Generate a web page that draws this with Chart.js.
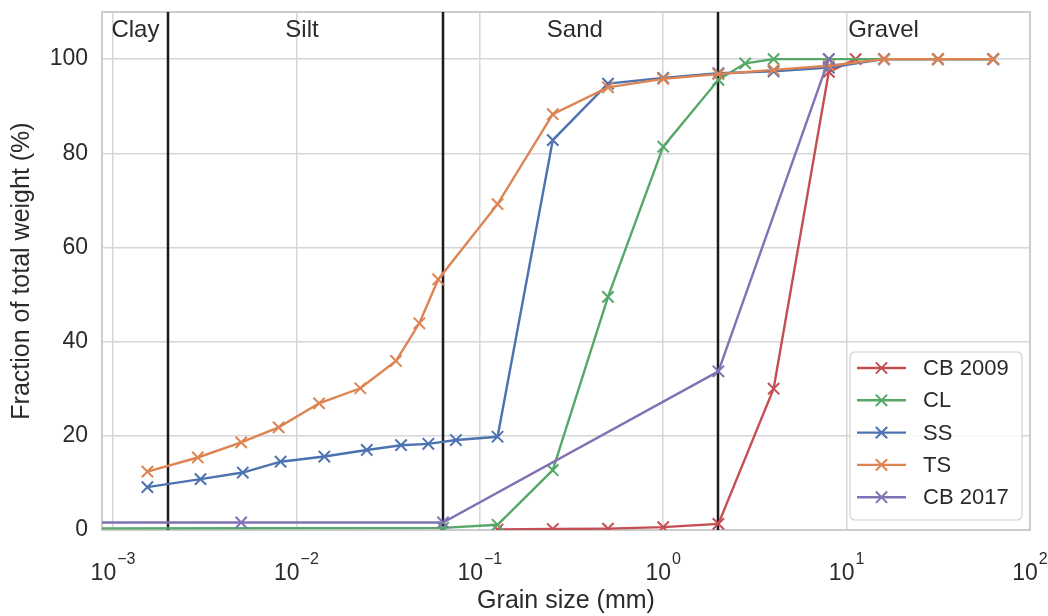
<!DOCTYPE html>
<html>
<head>
<meta charset="utf-8">
<script src="https://cdn.jsdelivr.net/npm/chart.js@4.4.1/dist/chart.umd.min.js"></script>
<style>
  html, body { margin: 0; padding: 0; background: #fff; }
  canvas { display: block; }
</style>
</head>
<body>
<canvas id="canvas-1" width="1048" height="616"></canvas>
<script>
// grain size distribution
var seriesNames = ['CB 2009', 'CL', 'SS', 'TS', 'CB 2017'];
var seriesColors = ['#c44e52', '#55a868', '#4c72b0', '#dd8452', '#8172b3'];

var cb2009Size = [0.125, 0.25, 0.5, 1, 2, 4, 8, 11.2, 16, 31.5, 63];
var cb2009Pct = [0.1, 0.2, 0.3, 0.6, 1.3, 30, 97.3, 100, 100, 100, 100];

var clSize = [0, 0.063, 0.125, 0.25, 0.5, 1, 2, 2.8, 4, 8, 16, 31.5, 63];
var clPct = [0.35, 0.45, 1.1, 12.7, 49.5, 81.4, 95.6, 99.1, 100, 100, 100, 100, 100];

var ssSize = [0.00154, 0.003, 0.0051, 0.0082, 0.0142, 0.0242, 0.0372, 0.0524, 0.0741, 0.125, 0.25, 0.5, 1, 2, 4, 8, 16, 31.5, 63];
var ssPct = [9.1, 10.8, 12.2, 14.5, 15.6, 17.0, 18.0, 18.3, 19.1, 19.8, 82.8, 94.8, 96.0, 97.0, 97.4, 98.2, 100, 100, 100];

var tsSize = [0.00154, 0.0029, 0.005, 0.008, 0.0133, 0.0223, 0.0349, 0.0468, 0.0593, 0.125, 0.25, 0.5, 1, 2, 4, 8, 16, 31.5, 63];
var tsPct = [12.4, 15.4, 18.6, 21.8, 26.9, 30.1, 35.9, 43.9, 53.2, 69.2, 88.3, 94.0, 95.8, 96.8, 97.7, 98.6, 100, 100, 100];

var cb2017Size = [0, 0.005, 0.063, 2, 8];
var cb2017Pct = [1.6, 1.6, 1.6, 33.7, 100];

var boundarySizes = [0.002, 0.063, 2];
var classNames = ['Clay', 'Silt', 'Sand', 'Gravel'];
var xTickPowers = [-3, -2, -1, 0, 1, 2];
var yTicks = [0, 20, 40, 60, 80, 100];

var textColor = '#2b2b2b';
var gridColor = '#d6d6d6';
var fontFamily = '"Liberation Sans", Arial, sans-serif';
var classLabelX = [0.00098, 0.0087, 0.232, 10.2];
var classLabelY = 104.6;

Chart.defaults.font.family = fontFamily;
Chart.defaults.color = textColor;

function toPoints(sizes, pcts) {
  return sizes.map(function (s, i) { return { x: s, y: pcts[i] }; });
}

var allSizes = [cb2009Size, clSize, ssSize, tsSize, cb2017Size];
var allPcts = [cb2009Pct, clPct, ssPct, tsPct, cb2017Pct];

var datasets = seriesNames.map(function (name, i) {
  return {
    label: name,
    data: toPoints(allSizes[i], allPcts[i]),
    borderColor: seriesColors[i],
    backgroundColor: seriesColors[i],
    pointBorderColor: seriesColors[i],
    borderWidth: 2.4,
    pointStyle: 'crossRot',
    pointRadius: function (c) { return c.raw && c.raw.x > 0 ? 8 : 0; },
    pointBorderWidth: 2,
    tension: 0,
    fill: false,
    order: seriesNames.length - i
  };
});

function drawCross(ctx, x, y, r) {
  var d = r * Math.SQRT1_2;
  ctx.beginPath();
  ctx.moveTo(x - d, y - d); ctx.lineTo(x + d, y + d);
  ctx.moveTo(x - d, y + d); ctx.lineTo(x + d, y - d);
  ctx.stroke();
}

var grainPlugin = {
  id: 'grainPlot',
  beforeDatasetsDraw: function (chart) {
    var ctx = chart.ctx, area = chart.chartArea;
    var xs = chart.scales.x, ys = chart.scales.y;
    ctx.save();
    // axes frame
    ctx.strokeStyle = '#cccccc';
    ctx.lineWidth = 2;
    ctx.strokeRect(area.left, area.top, area.right - area.left, area.bottom - area.top);
    // class boundaries
    ctx.strokeStyle = '#1a1a1a';
    ctx.lineWidth = 2.5;
    boundarySizes.forEach(function (b) {
      var px = Math.round(xs.getPixelForValue(b));
      ctx.beginPath();
      ctx.moveTo(px, area.top);
      ctx.lineTo(px, area.bottom);
      ctx.stroke();
    });
    ctx.fillStyle = textColor;
    ctx.font = '24px ' + fontFamily;
    ctx.textAlign = 'left';
    ctx.textBaseline = 'alphabetic';
    classNames.forEach(function (n, i) {
      ctx.fillText(n, xs.getPixelForValue(classLabelX[i]), ys.getPixelForValue(classLabelY));
    });
    ctx.restore();
  },
  afterDraw: function (chart) {
    var ctx = chart.ctx, area = chart.chartArea;
    var xs = chart.scales.x;
    ctx.save();
    // x tick labels as 10 with superscript exponent
    ctx.fillStyle = textColor;
    ctx.textAlign = 'left';
    ctx.textBaseline = 'alphabetic';
    xTickPowers.forEach(function (p) {
      var px = xs.getPixelForValue(Math.pow(10, p));
      var exp = p < 0 ? '\u2212' + (-p) : String(p);
      ctx.font = '23px ' + fontFamily;
      var wb = ctx.measureText('10').width;
      ctx.font = '16px ' + fontFamily;
      var we = ctx.measureText(exp).width;
      var left = px - (wb + we + 1) / 2;
      ctx.font = '23px ' + fontFamily;
      ctx.fillText('10', left, 580);
      ctx.font = '16px ' + fontFamily;
      ctx.fillText(exp, left + wb + 1, 564);
    });

    // legend in lower right corner
    var w = 172, h = 168, rowH = 32.3;
    var x0 = area.right - 8 - w, y0 = area.bottom - 10 - h;
    ctx.beginPath();
    if (ctx.roundRect) ctx.roundRect(x0, y0, w, h, 5); else ctx.rect(x0, y0, w, h);
    ctx.fillStyle = 'rgba(255,255,255,0.8)';
    ctx.fill();
    ctx.strokeStyle = '#d0d0d0';
    ctx.lineWidth = 1.2;
    ctx.stroke();
    ctx.font = '22px ' + fontFamily;
    ctx.textBaseline = 'middle';
    seriesNames.forEach(function (name, i) {
      var cy = y0 + 16 + rowH * i;
      ctx.strokeStyle = seriesColors[i];
      ctx.lineWidth = 2.4;
      ctx.beginPath();
      ctx.moveTo(x0 + 7, cy);
      ctx.lineTo(x0 + 56, cy);
      ctx.stroke();
      ctx.lineWidth = 2;
      drawCross(ctx, x0 + 31.5, cy, 8);
      ctx.fillStyle = textColor;
      ctx.fillText(name, x0 + 73, cy + 1);
    });
    ctx.restore();
  }
};

var grainChart = new Chart(document.getElementById('canvas-1'), {
  type: 'line',
  data: { datasets: datasets },
  plugins: [grainPlugin],
  options: {
    responsive: false,
    animation: false,
    layout: { padding: { top: 12, right: 18, left: 0, bottom: 0 } },
    plugins: {
      legend: { display: false },
      tooltip: { enabled: false }
    },
    scales: {
      x: {
        type: 'logarithmic',
        min: Math.pow(10, -3.06),
        max: 100,
        afterBuildTicks: function (axis) {
          axis.ticks = xTickPowers.map(function (p) { return { value: Math.pow(10, p) }; });
        },
        afterFit: function (axis) {
          axis.height = 86;
          axis.paddingLeft = 0;
          axis.paddingRight = 0;
        },
        ticks: { display: false },
        grid: { color: gridColor, lineWidth: 1.5, drawTicks: false },
        border: { display: false },
        title: {
          display: true,
          text: 'Grain size (mm)',
          color: textColor,
          font: { size: 25, lineHeight: 1.2 },
          padding: { top: 0, bottom: 0 }
        }
      },
      y: {
        type: 'linear',
        min: 0,
        max: 110,
        afterBuildTicks: function (axis) {
          axis.ticks = yTicks.map(function (v) { return { value: v }; });
        },
        afterFit: function (axis) {
          axis.width = 102;
          axis.paddingTop = 0;
          axis.paddingBottom = 0;
        },
        ticks: { color: textColor, font: { size: 23 }, padding: 14 },
        grid: { color: gridColor, lineWidth: 1.5, drawTicks: false },
        border: { display: false },
        title: {
          display: true,
          text: 'Fraction of total weight (%)',
          color: textColor,
          font: { size: 25, lineHeight: 1.2 },
          padding: { top: 7, bottom: 0 }
        }
      }
    }
  }
});
</script>
</body>
</html>
